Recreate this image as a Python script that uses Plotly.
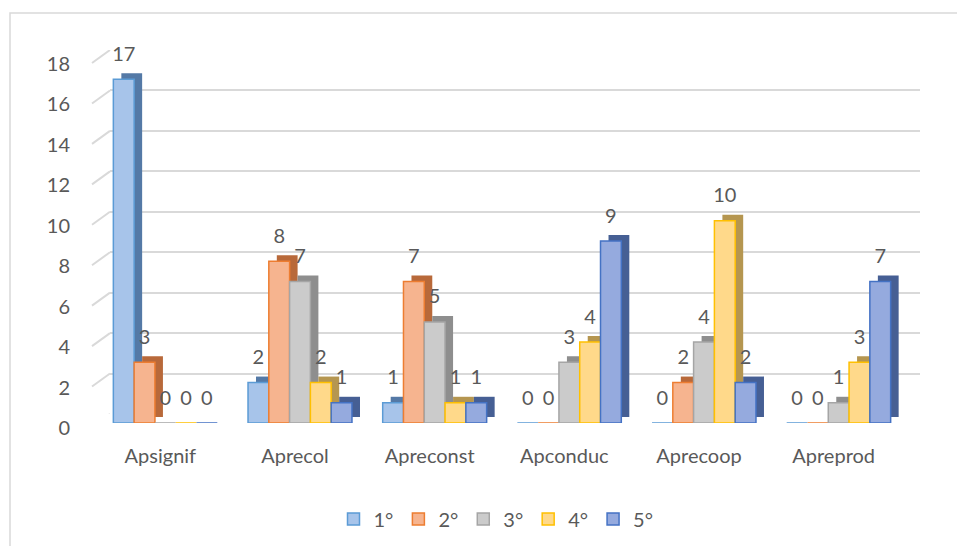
import plotly.graph_objects as go

categories = ["Apsignif", "Aprecol", "Apreconst", "Apconduc", "Aprecoop", "Apreprod"]
series_names = ["1°", "2°", "3°", "4°", "5°"]
values_1 = [17, 2, 1, 0, 0, 0]
values_2 = [3, 8, 7, 0, 2, 0]
values_3 = [0, 7, 5, 3, 4, 1]
values_4 = [0, 2, 1, 4, 10, 3]
values_5 = [0, 1, 1, 9, 2, 7]
y_ticks = [0, 2, 4, 6, 8, 10, 12, 14, 16, 18]

all_values = [values_1, values_2, values_3, values_4, values_5]
face_colors = ["#a7c4ea", "#f6b48f", "#cbcbcb", "#ffd98a", "#95aade"]
edge_colors = ["#5b9bd5", "#ed7d31", "#a5a5a5", "#ffc000", "#4472c4"]
side_colors = ["#5479a6", "#b8693a", "#8e8e8e", "#b59650", "#465f94"]

FONT = "Lato"
GREY = "#595959"
BARGAP = 0.228

# pixel helpers (plot area: x 90..945, y 40..446)
L, R, T, B = 90, 12, 40, 100
W, H = 957 - L - R, 546 - T - B


def px_x(p):
    return (p - L) / W


def px_y(p):
    return (546 - B - p) / H


fig = go.Figure()

# back wall (only carries the gridlines)
fig.add_trace(go.Scatter(x=categories, y=[0] * len(categories), mode="none", showlegend=False,
                         hoverinfo="skip", xaxis="x", yaxis="y"))

# 3D side/top faces, drawn on a slightly shifted copy of the axes
for name, vals, side in zip(series_names, all_values, side_colors):
    fig.add_trace(go.Bar(x=categories, y=vals, name=name, marker_color=side,
                         marker_line_width=0, showlegend=False, hoverinfo="skip",
                         xaxis="x2", yaxis="y2"))

# front faces
for name, vals, face, edge in zip(series_names, all_values, face_colors, edge_colors):
    fig.add_trace(go.Bar(x=categories, y=vals, name=name, marker_color=face,
                         marker_line=dict(color=edge, width=1.5),
                         xaxis="x3", yaxis="y3"))

# data labels
for name, vals in zip(series_names, all_values):
    fig.add_trace(go.Scatter(x=categories, y=vals, mode="markers+text", text=[str(v) for v in vals],
                             textposition="top center", textfont=dict(family=FONT, size=20, color=GREY),
                             marker=dict(size=20, opacity=0), showlegend=False, hoverinfo="skip",
                             cliponaxis=False, xaxis="x3", yaxis="y3"))

# slanted floor-to-wall part of each gridline
wall_links = [dict(type="line", xref="paper", xsizemode="pixel", xanchor=px_x(110), x0=-18, x1=0,
                   yref="y", ysizemode="pixel", yanchor=v, y0=-13, y1=0,
                   line=dict(color="#d9d9d9", width=2), layer="below") for v in y_ticks]

fig.update_layout(
    width=957, height=546,
    margin=dict(l=L, r=R, t=T, b=B, autoexpand=False),
    paper_bgcolor="white", plot_bgcolor="rgba(0,0,0,0)",
    barmode="group", bargap=BARGAP,
    scattermode="group", scattergap=BARGAP,
    font=dict(family=FONT, size=20, color=GREY),
    xaxis=dict(domain=[px_x(110), px_x(920)], showticklabels=False, showgrid=False,
               zeroline=False, anchor="y", categoryorder="array", categoryarray=categories),
    yaxis=dict(domain=[px_y(414), px_y(50)], range=[0, 18], tickvals=y_ticks, showticklabels=False,
               gridcolor="#d9d9d9", gridwidth=2, zeroline=False, anchor="x"),
    xaxis2=dict(domain=[px_x(106), px_x(914)], showticklabels=False, showgrid=False, zeroline=False,
                anchor="y2", categoryorder="array", categoryarray=categories),
    yaxis2=dict(domain=[px_y(417), px_y(53)], range=[0, 18], showticklabels=False,
                showgrid=False, zeroline=False, anchor="x2"),
    xaxis3=dict(domain=[px_x(98), px_x(906)], showgrid=False, zeroline=False, anchor="y3",
                ticklabelstandoff=19, ticklabelshift=-5, tickfont=dict(family=FONT, size=20, color=GREY),
                categoryorder="array", categoryarray=categories),
    yaxis3=dict(domain=[px_y(423), px_y(59)], range=[0, 18], tickvals=y_ticks, showgrid=False,
                zeroline=False, anchor="x3", ticklabelstandoff=27, ticklabelshift=5,
                tickfont=dict(family=FONT, size=20, color=GREY)),
    legend=dict(orientation="h", x=px_x(496), xanchor="center", y=px_y(519), yanchor="middle",
                font=dict(family=FONT, size=20, color=GREY), itemwidth=30, tracegroupgap=0),
    shapes=[dict(type="rect", xref="paper", yref="paper",
                 x0=px_x(10), x1=px_x(965), y0=px_y(560), y1=px_y(13),
                 line=dict(color="#d9d9d9", width=1.5), layer="below")] + wall_links,
)

# page body has a default 8px margin; drop it so the figure sits at the window's corner
fig.write_html("out.html", config={"displayModeBar": False},
               post_script="document.body.style.margin='0';")
